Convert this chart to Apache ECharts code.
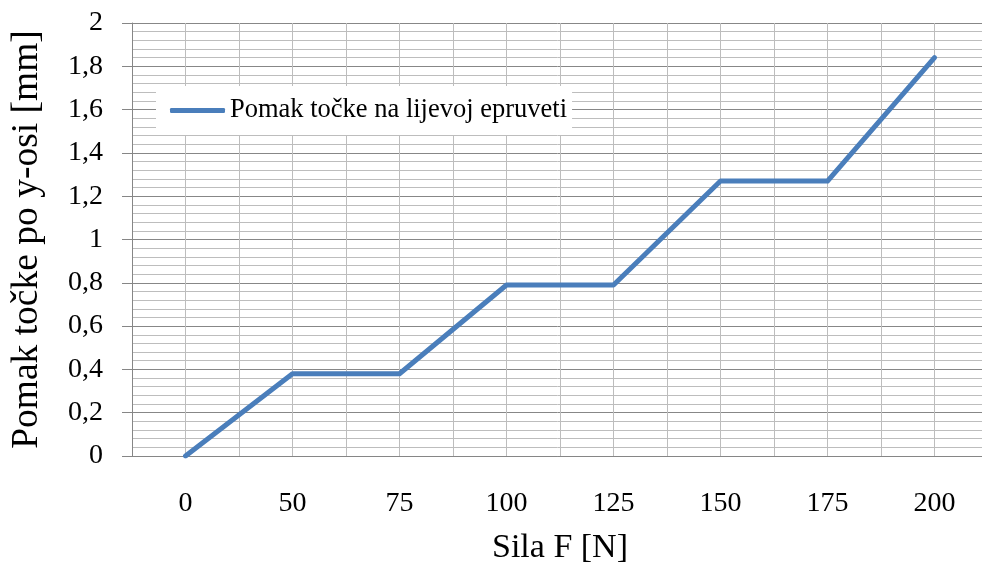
<!DOCTYPE html>
<html>
<head>
<meta charset="utf-8">
<style>
  html, body { margin: 0; padding: 0; background: #ffffff; }
  #chart { width: 982px; height: 582px; }
</style>
<script src="https://cdn.jsdelivr.net/npm/echarts@6/dist/echarts.min.js"></script>
</head>
<body>
<div id="chart"></div>
<script>
// Force on the x axis [N]
const forces = ['0', '50', '75', '100', '125', '150', '175', '200'];
// Displacement of the point along the y axis [mm]
const displacement = [0, 0.38, 0.38, 0.79, 0.79, 1.27, 1.27, 1.84];
const seriesName = 'Pomak točke na lijevoj epruveti';

const serif = '"Liberation Serif", "Times New Roman", serif';
const chart = echarts.init(document.getElementById('chart'), null, { renderer: 'canvas' });

chart.setOption({
  backgroundColor: '#ffffff',
  animation: false,
  grid: {
    left: 132, top: 23, width: 856, height: 433,
    containLabel: false,
    outerBoundsMode: 'none'
  },
  legend: {
    left: 156,
    top: 86,
    padding: [11, 5, 11, 14],
    backgroundColor: '#ffffff',
    itemWidth: 55,
    itemHeight: 5,
    itemGap: 0,
    textStyle: { fontFamily: serif, fontSize: 26.5, color: '#000000' },
    data: [{ name: seriesName, icon: 'roundRect' }]
  },
  xAxis: [
    {
      type: 'category',
      data: forces,
      boundaryGap: true,
      axisLine: { lineStyle: { color: '#868686', width: 1 } },
      axisTick: { alignWithLabel: true, length: 8, lineStyle: { color: '#868686' } },
      axisLabel: { fontFamily: serif, fontSize: 28, color: '#000000', margin: 34 },
      splitLine: { show: false },
      name: 'Sila F [N]',
      nameLocation: 'middle',
      nameGap: 75,
      nameTextStyle: { fontFamily: serif, fontSize: 34, color: '#000000' },
      z: 3
    },
    {
      // vertical grid every half category
      type: 'value',
      min: 0,
      max: 16,
      interval: 1,
      position: 'bottom',
      axisLine: { show: false },
      axisTick: { show: false },
      axisLabel: { show: false },
      splitLine: { show: true, lineStyle: { color: '#bdbdbd', width: 1 } }
    }
  ],
  yAxis: {
    type: 'value',
    min: 0,
    max: 2,
    interval: 0.2,
    axisLine: { show: true, lineStyle: { color: '#868686', width: 1 } },
    axisTick: { show: true, length: 10, lineStyle: { color: '#868686' } },
    minorTick: { show: false, splitNumber: 5 },
    axisLabel: {
      fontFamily: serif, fontSize: 28, color: '#000000', margin: 29,
      formatter: v => String(Math.round(v * 10) / 10).replace('.', ',')
    },
    splitLine: { show: true, lineStyle: { color: '#878787', width: 1 } },
    minorSplitLine: { show: true, lineStyle: { color: '#bdbdbd', width: 1 } },
    name: 'Pomak točke po y-osi [mm]',
    nameLocation: 'middle',
    nameRotate: 90,
    nameGap: 86,
    nameTextStyle: { fontFamily: serif, fontSize: 37.5, color: '#000000' }
  },
  series: [
    {
      name: seriesName,
      type: 'line',
      xAxisIndex: 0,
      data: displacement,
      symbol: 'none',
      lineStyle: { color: '#4a7ebb', width: 5, cap: 'round', join: 'round' },
      itemStyle: { color: '#4a7ebb' },
      z: 5
    }
  ]
});
</script>
</body>
</html>
